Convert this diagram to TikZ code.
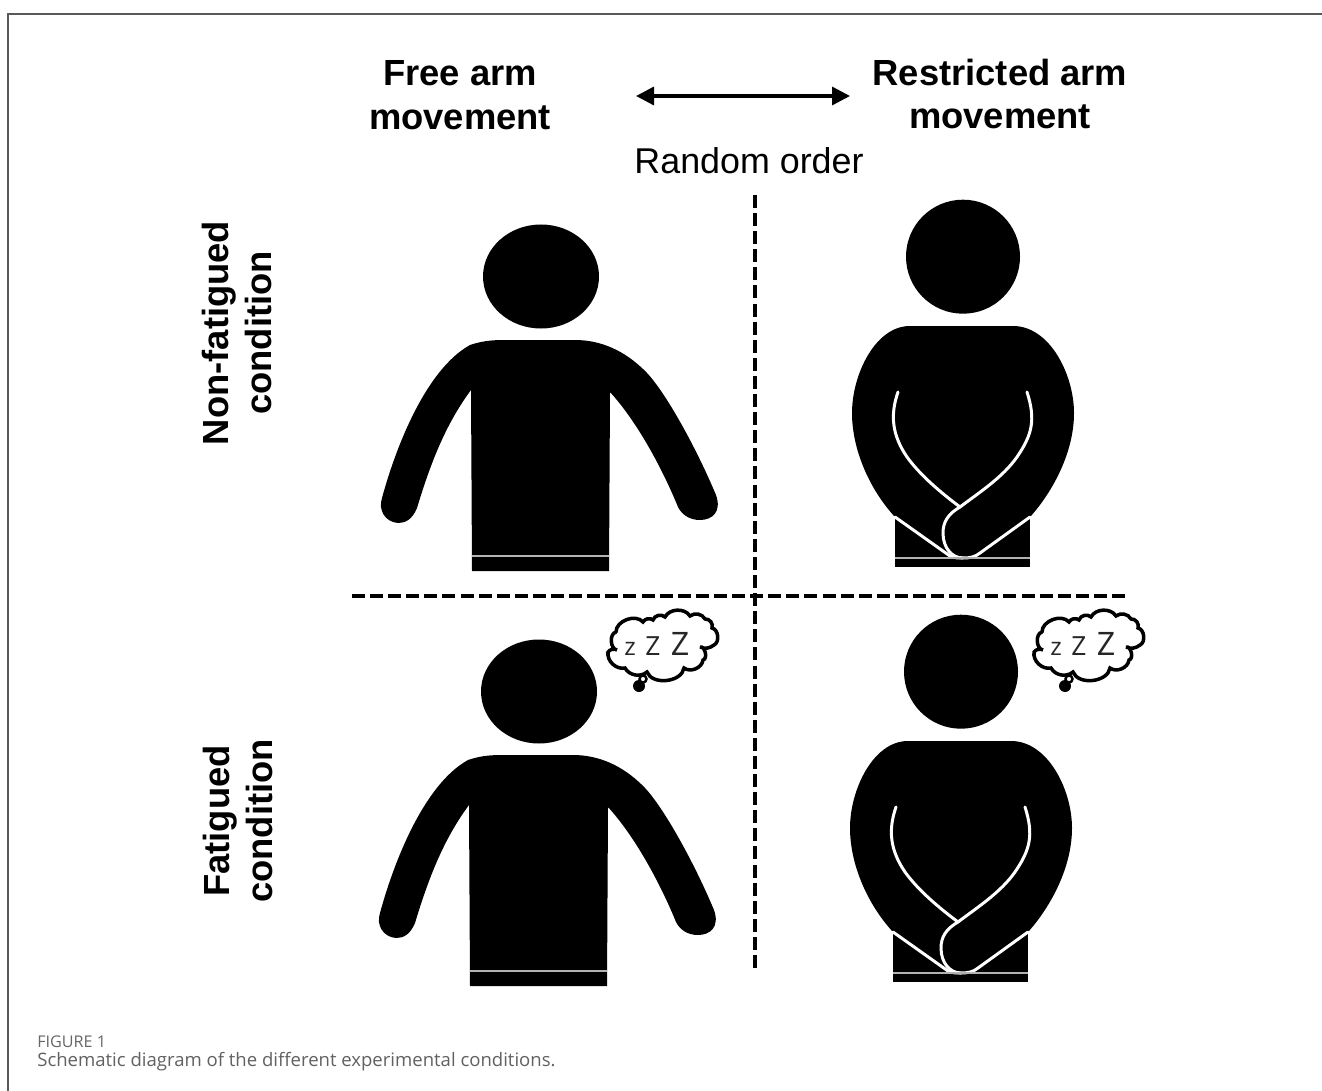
\documentclass[tikz,border=0pt]{standalone}
\usepackage{fontspec}
\setmainfont{Liberation Sans}
\newfontfamily\capfont{Open Sans}
\usetikzlibrary{arrows.meta}
\tikzset{
	freeman/.pic={
		\fill (541,276.5) ellipse [x radius=58, y radius=52];
		\fill (470,345) .. controls (485,340) and (495,340) .. (510,340) -- (575,340) .. controls (600,340) and (625,350) .. (647,373) .. controls (665,392) and (695,445) .. (716,495) .. controls (722,512) and (712,520) .. (700,520) .. controls (690,520) and (682,515) .. (678,507) .. controls (665,475) and (640,425) .. (610,392) -- (609,571) -- (472,571) -- (471,390) .. controls (445,425) and (430,465) .. (417,508) .. controls (412,520) and (405,523) .. (398,523) .. controls (385,522) and (378,510) .. (382,498) .. controls (395,450) and (425,370) .. (470,345) -- cycle;
		\draw[hemline] (472,556) -- (609,556);
	},
	armsman/.pic={
		\fill (963,256.7) circle [radius=57];
		\fill (895,517) rectangle (1030,567);
		\fill (910,326) -- (1013,326) .. controls (1050,326) and (1074,375) .. (1074,413) .. controls (1074,455) and (1050,495) .. (1030,517) -- (977,555) .. controls (970,559) and (956,559) .. (950,556) -- (895,517) .. controls (870,490) and (852,450) .. (852,413) .. controls (852,375) and (875,326) .. (910,326) -- cycle;
		\draw[whiteline] (898,392) .. controls (890,415) and (892,435) .. (907,457) .. controls (920,475) and (940,492) .. (960,507);
		\draw[whiteline] (1027,392) .. controls (1036,420) and (1032,435) .. (1017,457) .. controls (1003,477) and (980,492) .. (960,507) .. controls (948,514) and (943,522) .. (943,533) .. controls (943,548) and (952,558) .. (963,558) .. controls (970,558) and (975,557) .. (980,553) -- (1030,517);
		\draw[whiteline] (895,517) -- (950,556) .. controls (954,558) and (958,558) .. (963,558);
		\draw[hemline] (895,558) -- (1030,558);
	},
	zzzcloud/.pic={
		\draw[cloudline] (616,632) to[bend left=70] (643,622) to[bend left=50] (653,620) to[bend left=60] (665,617) to[bend left=60] (690,616) to[bend left=50] (705,619) to[bend left=60] (712,628) to[bend left=70] (714,645) to[bend left=30] (700,647) to[bend left=90] (703,660) to[bend left=60] (684,668) to[bend left=75] (647,672) to[bend left=50] (625,668) to[bend left=55] (608,652) to[bend left=40] (617,650) to[bend left=80] (616,632);
		\fill (639,686) circle [radius=6];
		\draw[line width=1.4pt, fill=white] (643,679) circle [radius=3.5];
		\node[zzz, font=\capfont\fontsize{14}{14}\selectfont] (a) at (630,649) {z};
		\node[zzz, font=\capfont\fontsize{15}{15}\selectfont] (b) at (653,646) {Z};
		\node[zzz, font=\capfont\fontsize{18.4}{18.4}\selectfont] (c) at (680,644) {Z};
	}
}
\begin{document}
\begin{tikzpicture}[x=0.02cm, y=-0.02cm, >={Triangle[length=3.6mm, width=3.6mm]}, head/.style={font=\bfseries\fontsize{20.7}{25}\selectfont, align=center, inner sep=0pt}, whiteline/.style={white, line width=1.7pt, line cap=round}, hemline/.style={black!30, line width=1.6pt}, cloudline/.style={line width=2pt, fill=white, line cap=round}, zzz/.style={inner sep=0pt, text=black!85}, divider/.style={line width=2.6pt, dash pattern=on 7.4pt off 2.9pt}]
	\useasboundingbox (0,0) rectangle (1322,1091);
	\draw[black!65, line width=.6pt] (1322,14) -- (8,14) -- (8,1091);
	\node[head] (free) at (460,95) {Free arm\\movement};
	\node[head] (restricted) at (1000,94) {Restricted arm\\movement};
	\node[inner sep=0pt, font=\fontsize{20.4}{24}\selectfont] (order) at (749,161) {Random order};
	\coordinate (orderL) at (636,96);
	\coordinate (orderR) at (850,96);
	\draw[<->, line width=1.9pt] (orderL) -- (orderR);
	\node[head, rotate=90] (nonfat) at (237,333) {Non-fatigued\\condition};
	\node[head, rotate=90] (fat) at (238,821) {Fatigued\\condition};
	\coordinate (vtop) at (755,195);
	\coordinate (vbot) at (755,968);
	\coordinate (hleft) at (352,596);
	\coordinate (hright) at (1126,596);
	\draw[divider] (vtop) -- (vbot);
	\draw[divider] (hleft) -- (hright);
	\pic (fm1) at (0,0) {freeman};
	\pic (fm2) at (-2,415) {freeman};
	\pic (am1) at (0,0) {armsman};
	\pic (am2) at (-2,415) {armsman};
	\pic (cl1) at (0,0) {zzzcloud};
	\pic (cl2) at (426,0) {zzzcloud};
	\node[anchor=west, inner sep=0pt, text=black!60, font=\capfont\fontsize{9.2}{10}\selectfont] (figlabel) at (37,1042) {FIGURE 1};
	\node[anchor=west, inner sep=0pt, text=black!62, font=\capfont\fontsize{10.55}{12}\selectfont] (caption) at (37,1062) {Schematic diagram of the different experimental conditions.};
\end{tikzpicture}
\end{document}
